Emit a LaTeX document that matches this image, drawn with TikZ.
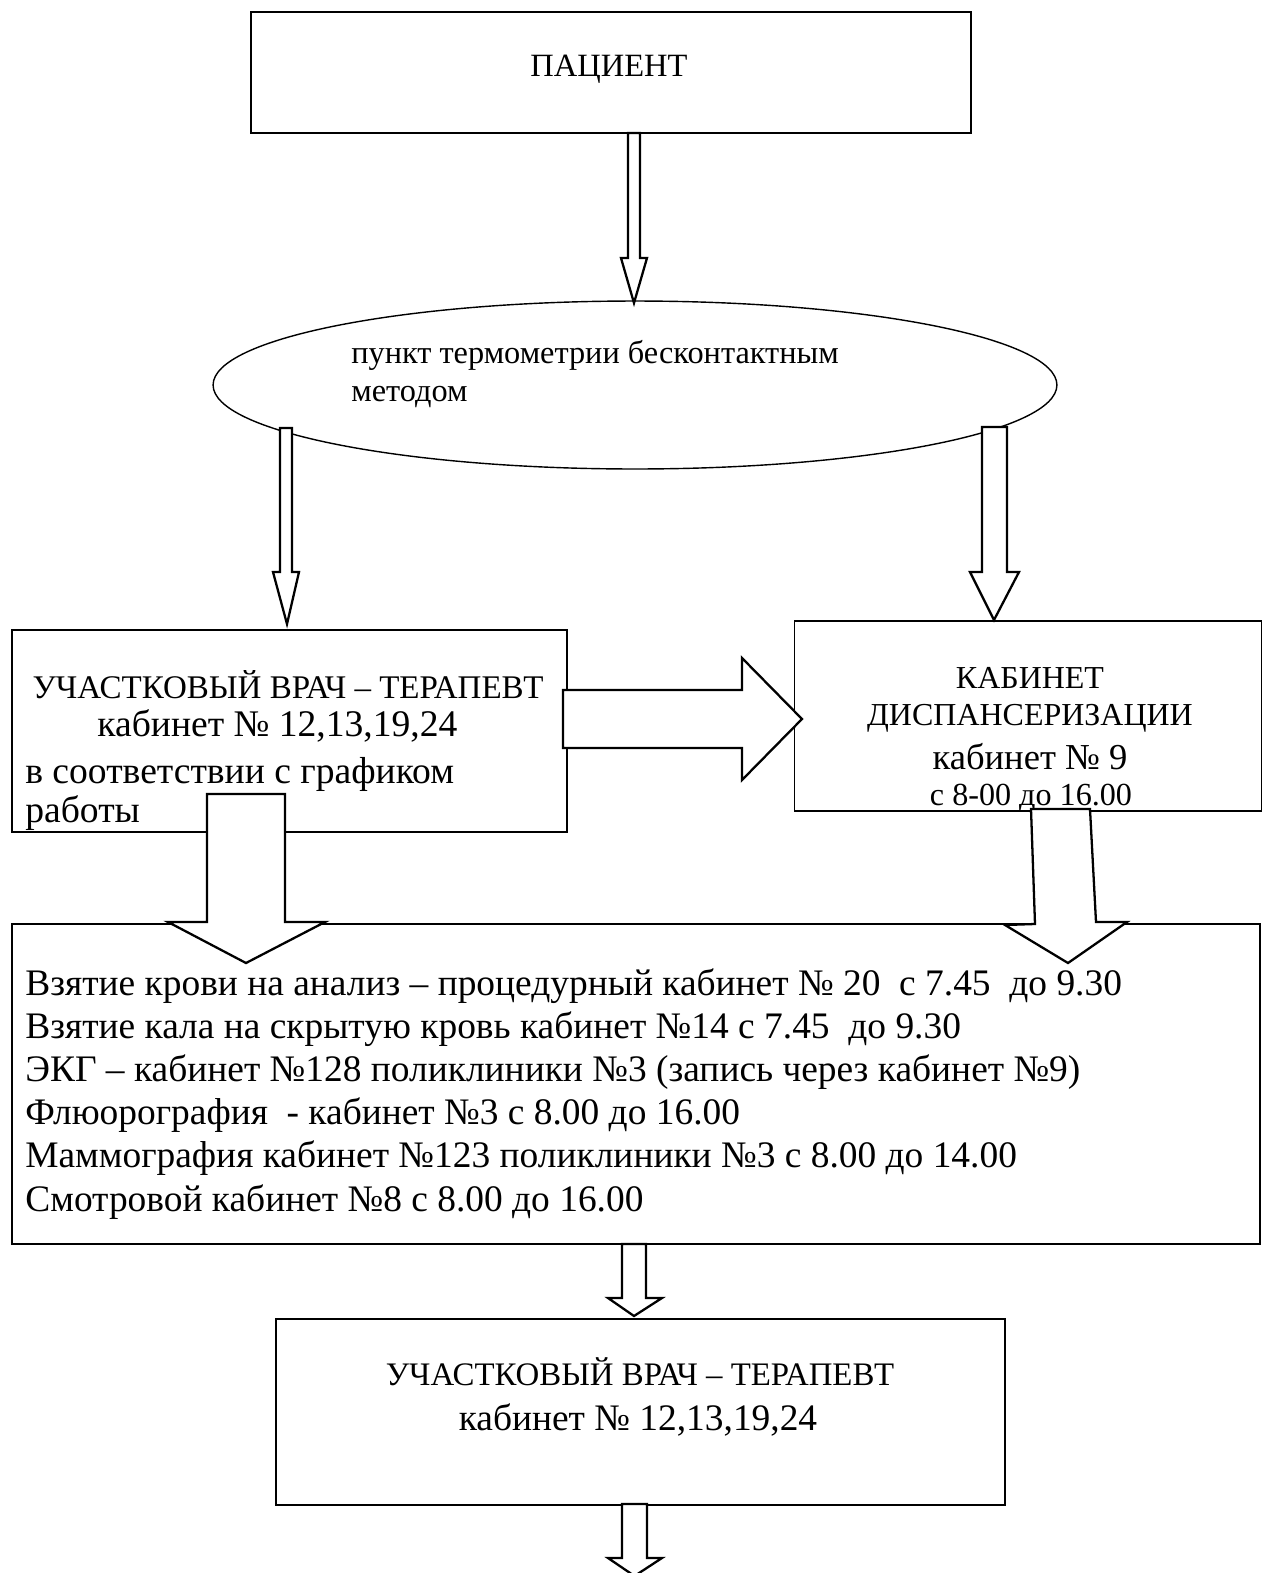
\documentclass[tikz,border=0pt]{standalone}
\usepackage{fontspec}
\setmainfont{Liberation Serif}
\usetikzlibrary{shapes.geometric}

\begin{document}
\begin{tikzpicture}[x=0.02cm,y=-0.02cm,
  box/.style={draw,line width=0.8pt,inner sep=0pt,outer sep=0pt},
  barrow/.style={draw,fill=white,line width=1.3pt,line join=miter},
  txt/.style={inner sep=0pt,text=black}]
  \useasboundingbox (0,0) rectangle (1263,1573);
  % boxes
  \node[box,minimum width=14.4cm,minimum height=2.42cm] (pat) at (611,72.5) {};
  \node[box,ellipse,minimum width=16.88cm,minimum height=3.36cm] (therm) at (635,385) {};
  \node[box,minimum width=11.1cm,minimum height=4.04cm] (vrach) at (289.5,731) {};
  \node[box,minimum width=9.34cm,minimum height=3.8cm] (disp) at (1028,716) {};
  \node[box,minimum width=24.96cm,minimum height=6.4cm] (anal) at (636,1084) {};
  \node[box,minimum width=14.58cm,minimum height=3.72cm] (vrach2) at (640.5,1412) {};
  % texts
  \node[txt,font=\fontsize{18.5}{22}\selectfont] (tpat) at (609,69) {ПАЦИЕНТ};
  \node[txt,anchor=west,align=left,font=\fontsize{18.4}{22}\selectfont] (ttherm) at (351,374)
    {пункт термометрии бесконтактным\\методом};
  \node[txt,font=\fontsize{18.8}{22}\selectfont] (tv1) at (288,685) {УЧАСТКОВЫЙ ВРАЧ -- ТЕРАПЕВТ};
  \node[txt,anchor=west,font=\fontsize{21.4}{24}\selectfont] (tv2) at (97,726) {кабинет № 12,13,19,24};
  \node[txt,anchor=west,align=left,font=\fontsize{21.4}{22.7}\selectfont] (tv3) at (25,794)
    {в соответствии с графиком\\работы};
  \node[txt,align=center,font=\fontsize{18.2}{21}\selectfont] (td1) at (1030,700)
    {КАБИНЕТ\\ДИСПАНСЕРИЗАЦИИ};
  \node[txt,font=\fontsize{20.8}{24}\selectfont] (td2) at (1030,757) {кабинет № 9};
  \node[txt,font=\fontsize{18.3}{21}\selectfont] (td3) at (1031,798) {с 8-00 до 16.00};
  \node[txt,anchor=west,align=left,font=\fontsize{21.3}{24.5}\selectfont] (tanal) at (25,1094)
    {Взятие крови на анализ -- процедурный кабинет № 20\ \ с 7.45\ \ до 9.30\\
     Взятие кала на скрытую кровь кабинет №14 с 7.45\ \ до 9.30\\
     ЭКГ -- кабинет №128 поликлиники №3 (запись через кабинет №9)\\
     Флюорография\ \ - кабинет №3 с 8.00 до 16.00\\
     Маммография кабинет №123 поликлиники №3 с 8.00 до 14.00\\
     Смотровой кабинет №8 с 8.00 до 16.00};
  \node[txt,font=\fontsize{18.7}{22}\selectfont] (tv4) at (640,1372) {УЧАСТКОВЫЙ ВРАЧ -- ТЕРАПЕВТ};
  \node[txt,font=\fontsize{21.3}{24}\selectfont] (tv5) at (638,1420) {кабинет № 12,13,19,24};
  % block arrows
  \draw[barrow] (628,133) -- (640,133) -- (640,258) -- (647,258) -- (634,303) -- (621,258) -- (628,258) -- cycle;
  \draw[barrow] (280,428) -- (292,428) -- (292,572) -- (299,572) -- (287,624) -- (273,572) -- (280,572) -- cycle;
  \draw[barrow] (982,427) -- (1007,427) -- (1007,572) -- (1019,572) -- (994,620) -- (970,572) -- (982,572) -- cycle;
  \draw[barrow] (563,690) -- (742,690) -- (742,658) -- (802,719) -- (742,780) -- (742,748) -- (563,748) -- cycle;
  \draw[barrow] (207,794) -- (285,794) -- (285,922) -- (325,922) -- (246,963) -- (168,922) -- (207,922) -- cycle;
  \draw[barrow] (1031,809) -- (1090,809) -- (1096,922) -- (1127,922) -- (1068,963) -- (1005,925) -- (1035,924) -- cycle;
  \draw[barrow] (622,1244) -- (646,1244) -- (646,1298) -- (662,1298) -- (634,1316) -- (608,1298) -- (622,1298) -- cycle;
  \draw[barrow] (622,1504) -- (647,1504) -- (647,1558) -- (662,1558) -- (634.5,1576) -- (608,1558) -- (622,1558) -- cycle;
\end{tikzpicture}
\end{document}
